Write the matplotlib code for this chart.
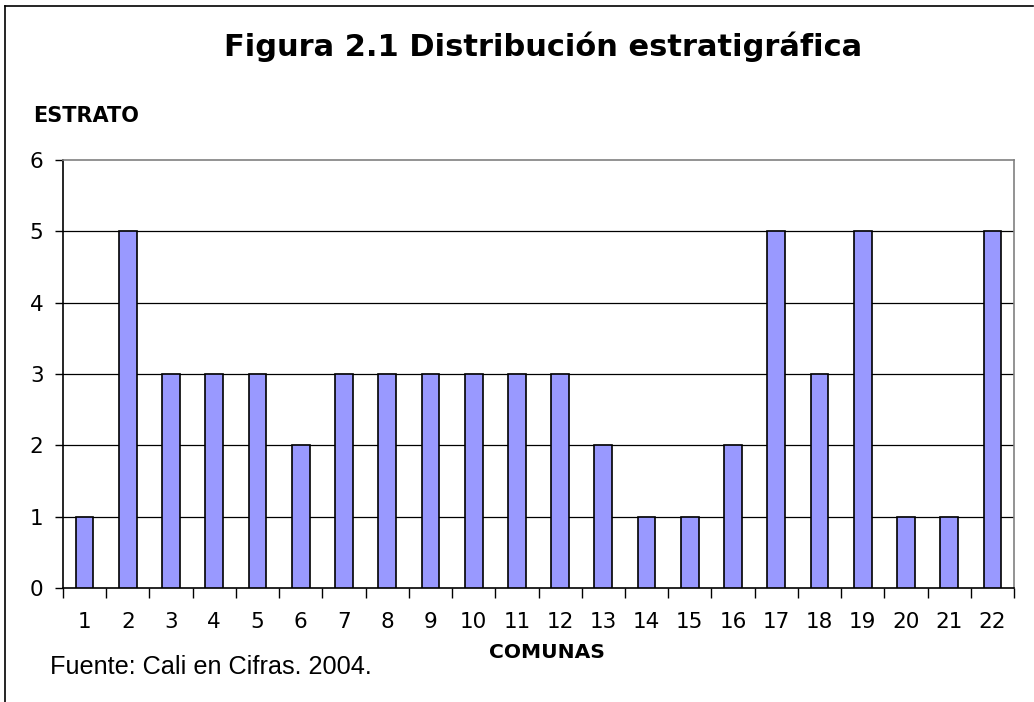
import matplotlib.pyplot as plt
from matplotlib.lines import Line2D
from matplotlib.ticker import FixedLocator

# data
comunas = [str(i) for i in range(1, 23)]
estrato = [1, 5, 3, 3, 3, 2, 3, 3, 3, 3, 3, 3, 2, 1, 1, 2, 5, 3, 5, 1, 1, 5]
y_ticks = [0, 1, 2, 3, 4, 5, 6]

W, H = 1034, 702
fig = plt.figure(figsize=(W / 100, H / 100), dpi=100)
ax = fig.add_axes([63 / W, 1 - 588 / H, (1014 - 63) / W, (588 - 160) / H])

x = list(range(len(comunas)))
ax.bar(x, estrato, width=0.41, color='#9999FF', edgecolor='black', linewidth=1.2, zorder=3)

ax.set_xlim(-0.5, len(comunas) - 0.5)
ax.set_ylim(0, 6)
ax.set_yticks(y_ticks)
ax.set_yticklabels([str(v) for v in y_ticks], fontsize=15.5, fontfamily='DejaVu Sans')
ax.set_xticks(x)
ax.set_xticklabels(comunas, fontsize=15.5, fontfamily='DejaVu Sans')
ax.xaxis.set_minor_locator(FixedLocator([i - 0.5 for i in range(len(comunas) + 1)]))
ax.tick_params(axis='x', which='major', length=0, pad=17)
ax.tick_params(axis='x', which='minor', length=7, width=1, color='black', direction='out')
ax.tick_params(axis='y', which='major', length=6, width=1, direction='out', pad=8)

# horizontal grid
for v in y_ticks[1:-1]:
    ax.axhline(v, color='black', linewidth=0.9, zorder=1)

ax.spines['left'].set_color('black')
ax.spines['bottom'].set_color('black')
ax.spines['top'].set_color('#808080')
ax.spines['right'].set_color('#808080')
for s in ax.spines.values():
    s.set_linewidth(1.2)

# texts
fig.text(543 / W, 1 - 47 / H, 'Figura 2.1 Distribución estratigráfica', ha='center', va='center',
         fontsize=22, fontweight='bold', fontfamily='DejaVu Sans')
fig.text(33 / W, 1 - 116 / H, 'ESTRATO', ha='left', va='center',
         fontsize=15, fontweight='bold', fontfamily='DejaVu Sans')
fig.text(547 / W, 1 - 652 / H, 'COMUNAS', ha='center', va='center',
         fontsize=14.6, fontweight='bold', fontfamily='DejaVu Sans')
fig.text(50 / W, 1 - 667 / H, 'Fuente: Cali en Cifras. 2004.', ha='left', va='center',
         fontsize=18.2, fontfamily='Liberation Sans')

# chart-area border (left and top)
fig.add_artist(Line2D([5 / W, 5 / W], [1 - 6 / H, 0], color='black', linewidth=1.2))
fig.add_artist(Line2D([5 / W, 1033 / W], [1 - 6 / H, 1 - 6 / H], color='black', linewidth=1.2))

fig.savefig('out.png', dpi=100)
